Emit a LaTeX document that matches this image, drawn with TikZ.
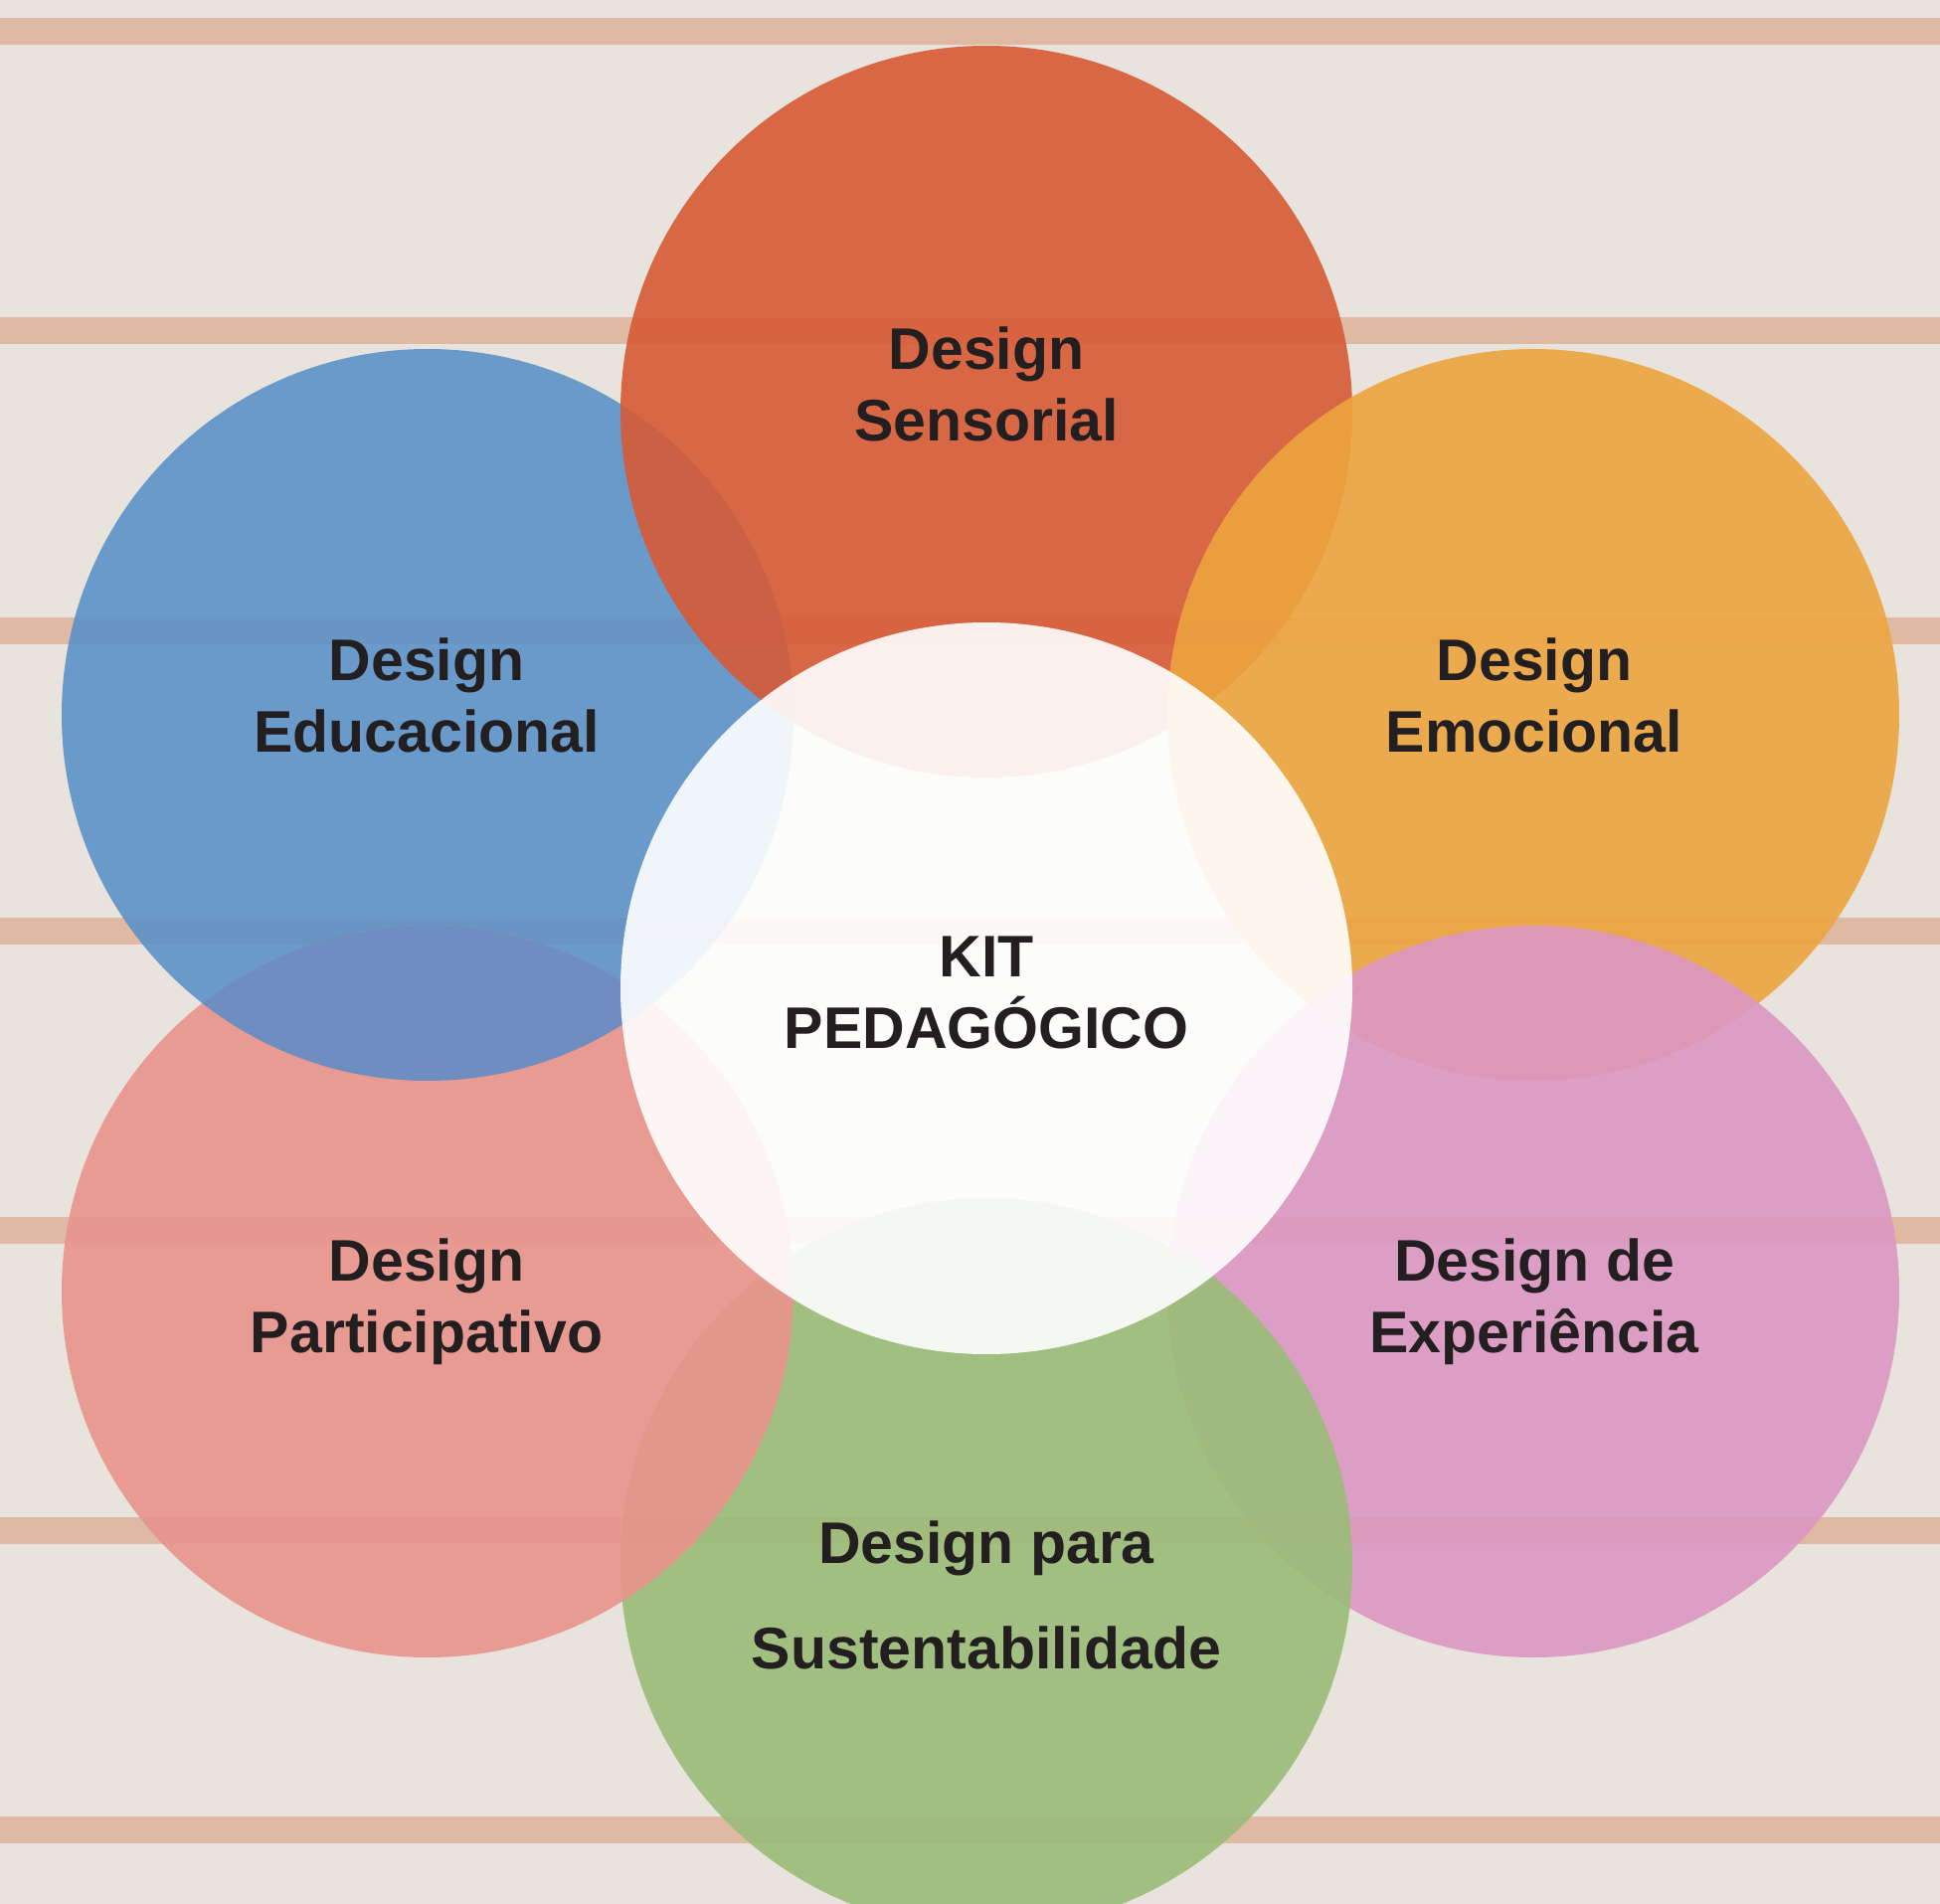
\documentclass[tikz,border=0pt]{standalone}
\usepackage{fontspec}
\setmainfont{Liberation Sans}
\definecolor{bgbeige}{HTML}{E8E4DD}
\definecolor{stripetan}{HTML}{DFB9A1}
\definecolor{sensred}{HTML}{D75A36}
\definecolor{educblue}{HTML}{5C92C8}
\definecolor{emocorange}{HTML}{ECA43E}
\definecolor{partpink}{HTML}{E8948B}
\definecolor{expepink}{HTML}{DB97C2}
\definecolor{sustgreen}{HTML}{9ABC77}
\definecolor{textdark}{HTML}{231F20}
\begin{document}
\begin{tikzpicture}[
    x=0.5pt, y=-0.5pt,
    petal/.style={circle, minimum size=368pt, inner sep=0pt, outer sep=0pt, fill opacity=0.9},
    petaltext/.style={align=center, inner sep=0pt, text=textdark, font=\bfseries\fontsize{29.5}{36}\selectfont},
    stripe/.style={fill=stripetan}
]
% background and stripes
\fill[bgbeige] (0,0) rectangle (1951,1915);
\useasboundingbox (0,0) rectangle (1951,1915);
\foreach \y in {31.5, 333, 634.5, 936, 1237.5, 1539, 1840.5}
  \fill[stripe] (0,{\y-13.5}) rectangle (1951,{\y+13.5});

% petals
\node[petal, fill=educblue] (educ) at (430, 719) {};
\node[petal, fill=sensred] (sens) at (992, 414) {};
\node[petal, fill=emocorange] (emoc) at (1542, 719) {};
\node[petal, fill=expepink] (expe) at (1542, 1299) {};
\node[petal, fill=sustgreen] (sust) at (992, 1573) {};
\node[petal, fill=partpink] (part) at (430, 1299) {};
% blue lies over the pink one
\begin{scope}
  \clip (part.center) circle (368);
  \fill[educblue!96!blue, fill opacity=0.83] (educ.center) circle (368);
\end{scope}

% center
\node[petal, fill=white] (kit) at (992, 994) {};

% texts
\node[petaltext] (sens-txt) at (992, 386) {Design\\Sensorial};
\node[petaltext] (educ-txt) at (429, 699) {Design\\Educacional};
\node[petaltext] (emoc-txt) at (1543, 699) {Design\\Emocional};
\node[petaltext] (kit-txt) at (992, 998) {KIT\\PEDAG\'OGICO};
\node[petaltext] (part-txt) at (429, 1309) {Design\\Participativo};
\node[petaltext] (expe-txt) at (1543, 1309) {Design de\\Experi\^encia};
\node[petaltext] (sust-txt) at (992, 1604) {Design para\\[17pt]Sustentabilidade};
\end{tikzpicture}
\end{document}
